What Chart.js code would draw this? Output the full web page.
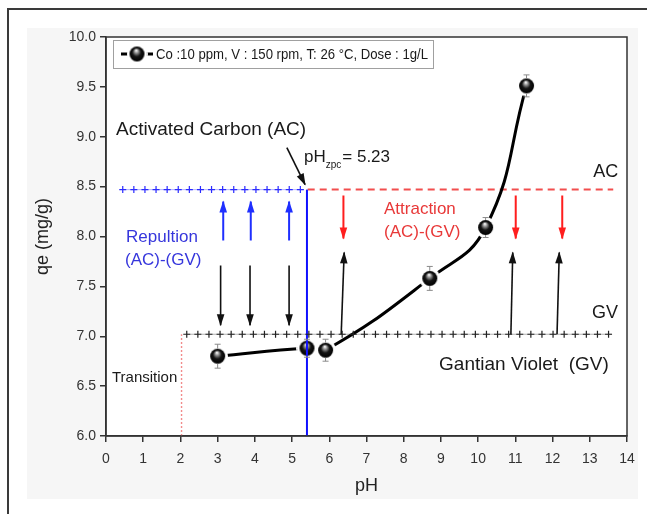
<!DOCTYPE html>
<html>
<head>
<meta charset="utf-8">
<title>qe vs pH</title>
<script src="https://cdn.jsdelivr.net/npm/chart.js@4.4.1/dist/chart.umd.min.js"></script>
<style>
  html, body { margin: 0; padding: 0; background: #fff; }
  #wrap { width: 647px; height: 514px; }
</style>
</head>
<body>
<div id="wrap"><canvas id="phChart" width="647" height="514"></canvas></div>
<script>
// measured points (pH, qe) and their error bars
var phValues = [3.0, 5.4, 5.9, 8.7, 10.2, 11.3];
var qeValues = [6.80, 6.88, 6.86, 7.58, 8.09, 9.51];
var qeErrors = [0.12, 0.09, 0.11, 0.12, 0.10, 0.11];

var xTickValues = [0, 1, 2, 3, 4, 5, 6, 7, 8, 9, 10, 11, 12, 13, 14];
var yTickValues = [6.0, 6.5, 7.0, 7.5, 8.0, 8.5, 9.0, 9.5, 10.0];
var yTickLabels = ["6.0", "6.5", "7.0", "7.5", "8.0", "8.5", "9.0", "9.5", "10.0"];

// reference levels of the scheme
var acLevel = 8.47;
var gvLevel = 7.02;
var pHzpcX = 5.4;
var transitionX = 2.03;
var acPlusRange = [0.45, 5.32];
var acDashRange = [5.42, 13.63];
var gvPlusRange = [2.17, 13.59];

// arrows: x positions, [from, to] levels
var blueUpX = [3.15, 3.89, 4.92];
var blueUpY = [7.96, 8.35];
var blackDownX = [3.08, 3.87, 4.92];
var blackDownY = [7.71, 7.11];
var redDownX = [6.38, 11.01, 12.26];
var redDownY = [8.41, 7.98];
var blackUpFromX = [6.32, 10.88, 12.12];
var blackUpToX = [6.40, 10.93, 12.18];
var blackUpY = [7.02, 7.84];
var zpcArrowX = [4.86, 5.35];
var zpcArrowY = [8.89, 8.52];

var legendText = "Co :10 ppm, V : 150 rpm, T: 26 \u00B0C, Dose : 1g/L";

var FONT = '"Liberation Sans", Arial, sans-serif';
var BLUE = "#1f2fff";
var RED = "#ff1e1e";
var BALL_R = 7.5;

Chart.defaults.font.family = FONT;
Chart.defaults.color = "#333";

// shaded ball used as point symbol (white ring gives the gap in the line)
function makeBall(r, ring) {
  var c = document.createElement("canvas");
  var s = Math.ceil(2 * (r + ring));
  c.width = s;
  c.height = s;
  var g = c.getContext("2d");
  var m = s / 2;
  g.fillStyle = "#fff";
  g.beginPath();
  g.arc(m, m, r + ring, 0, Math.PI * 2);
  g.fill();
  var grad = g.createRadialGradient(m - r * 0.1, m - r * 0.5, 0.3, m, m, r);
  grad.addColorStop(0, "#ffffff");
  grad.addColorStop(0.22, "#9a9a9a");
  grad.addColorStop(0.55, "#151515");
  grad.addColorStop(1, "#000");
  g.fillStyle = grad;
  g.beginPath();
  g.arc(m, m, r, 0, Math.PI * 2);
  g.fill();
  return c;
}
var ball = makeBall(BALL_R, 3);

function segment(x0, y0, x1, y1, color, width, extra) {
  var ds = {
    data: [{ x: x0, y: y0 }, { x: x1, y: y1 }],
    borderColor: color,
    backgroundColor: color,
    borderWidth: width,
    pointRadius: 0,
    tension: 0,
    fill: false,
    order: 5
  };
  return Object.assign(ds, extra || {});
}

var datasets = [];

// the measured curve
datasets.push({
  data: phValues.map(function (x, i) { return { x: x, y: qeValues[i] }; }),
  borderColor: "#000",
  borderWidth: 3,
  tension: 0.45,
  pointStyle: ball,
  pointRadius: 7,
  order: 2
});

// pHzpc vertical line (drawn over the ball)
datasets.push(segment(pHzpcX, 6, pHzpcX, acLevel, "#1010ff", 2, { order: 0 }));
// transition line
datasets.push(segment(transitionX, 6, transitionX, gvLevel, "#f28c8c", 1.4, { borderDash: [2, 2] }));
// AC level: + marks then red dashes
datasets.push(segment(acPlusRange[0], acLevel, acPlusRange[1], acLevel, "rgba(40,40,255,0.35)", 1, { plusMarks: "#2b2bff" }));
datasets.push(segment(acDashRange[0], acLevel, acDashRange[1], acLevel, "#f24e4e", 2, { borderDash: [7, 5] }));
// GV level
datasets.push(segment(gvPlusRange[0], gvLevel, gvPlusRange[1], gvLevel, "rgba(0,0,0,0.3)", 1, { plusMarks: "#222" }));

// arrows
blueUpX.forEach(function (x) {
  datasets.push(segment(x, blueUpY[0], x, blueUpY[1], BLUE, 2, { arrowHead: true }));
});
blackDownX.forEach(function (x) {
  datasets.push(segment(x, blackDownY[0], x, blackDownY[1], "#111", 1.6, { arrowHead: true }));
});
redDownX.forEach(function (x) {
  datasets.push(segment(x, redDownY[0], x, redDownY[1], RED, 2, { arrowHead: true }));
});
blackUpFromX.forEach(function (x, i) {
  datasets.push(segment(x, blackUpY[0], blackUpToX[i], blackUpY[1], "#111", 1.6, { arrowHead: true }));
});
datasets.push(segment(zpcArrowX[0], zpcArrowY[0], zpcArrowX[1], zpcArrowY[1], "#111", 1.6, { arrowHead: true }));

// text notes placed in data coordinates
var notes = [
  { text: "Activated Carbon (AC)", x: 0.27, y: 9.07, color: "#1a1a1a", size: 19 },
  { text: "AC", x: 13.09, y: 8.65, color: "#1a1a1a", size: 18 },
  { text: "GV", x: 13.06, y: 7.23, color: "#1a1a1a", size: 18 },
  { text: "Gantian Violet  (GV)", x: 8.95, y: 6.71, color: "#1a1a1a", size: 19 },
  { text: "Repultion", x: 0.54, y: 7.995, color: "#3636dc", size: 17 },
  { text: "(AC)-(GV)", x: 0.51, y: 7.76, color: "#3636dc", size: 17 },
  { text: "Attraction", x: 7.47, y: 8.27, color: "#e83838", size: 17 },
  { text: "(AC)-(GV)", x: 7.47, y: 8.04, color: "#e83838", size: 17 },
  { text: "Transition", x: 0.16, y: 6.58, color: "#1a1a1a", size: 15 }
];

var decor = {
  id: "decor",
  beforeDraw: function (chart) {
    var ctx = chart.ctx;
    var a = chart.chartArea;
    ctx.save();
    ctx.fillStyle = "#fff";
    ctx.fillRect(0, 0, chart.width, chart.height);
    ctx.fillStyle = "#f6f6f6";
    ctx.fillRect(27, 28, 611, 471);
    ctx.fillStyle = "#fff";
    ctx.fillRect(a.left, a.top, a.right - a.left, a.bottom - a.top);
    ctx.strokeStyle = "#3a3a3a";
    ctx.lineWidth = 2;
    ctx.beginPath();
    ctx.moveTo(8, chart.height);
    ctx.lineTo(8, 9);
    ctx.lineTo(chart.width, 9);
    ctx.stroke();
    ctx.restore();
  },
  afterDatasetsDraw: function (chart) {
    var ctx = chart.ctx;
    var xs = chart.scales.x, ys = chart.scales.y;
    var a = chart.chartArea;
    ctx.save();

    // error bars, only outside the ball
    ctx.strokeStyle = "#8a8a8a";
    ctx.lineWidth = 1;
    phValues.forEach(function (x, i) {
      var px = xs.getPixelForValue(x);
      var py = ys.getPixelForValue(qeValues[i]);
      var top = ys.getPixelForValue(qeValues[i] + qeErrors[i]);
      var bot = ys.getPixelForValue(qeValues[i] - qeErrors[i]);
      ctx.beginPath();
      ctx.moveTo(px, top); ctx.lineTo(px, py - BALL_R);
      ctx.moveTo(px, py + BALL_R); ctx.lineTo(px, bot);
      ctx.moveTo(px - 3, top); ctx.lineTo(px + 3, top);
      ctx.moveTo(px - 3, bot); ctx.lineTo(px + 3, bot);
      ctx.stroke();
    });

    chart.data.datasets.forEach(function (ds, i) {
      var pts = chart.getDatasetMeta(i).data;
      if (ds.plusMarks) {
        ctx.strokeStyle = ds.plusMarks;
        ctx.lineWidth = 1.2;
        var x0 = pts[0].x, x1 = pts[1].x, y = pts[0].y;
        ctx.beginPath();
        for (var px = x0; px <= x1 + 0.5; px += 11.1) {
          ctx.moveTo(px - 3.5, y); ctx.lineTo(px + 3.5, y);
          ctx.moveTo(px, y - 3.5); ctx.lineTo(px, y + 3.5);
        }
        ctx.stroke();
      }
      if (ds.arrowHead) {
        var p0 = pts[0], p1 = pts[1];
        var ang = Math.atan2(p1.y - p0.y, p1.x - p0.x);
        ctx.fillStyle = ds.borderColor;
        ctx.save();
        ctx.translate(p1.x, p1.y);
        ctx.rotate(ang);
        ctx.beginPath();
        ctx.moveTo(1, 0);
        ctx.lineTo(-11, -3.8);
        ctx.lineTo(-11, 3.8);
        ctx.closePath();
        ctx.fill();
        ctx.restore();
      }
    });

    // notes
    ctx.textBaseline = "middle";
    ctx.textAlign = "left";
    notes.forEach(function (n) {
      ctx.fillStyle = n.color;
      ctx.font = n.size + "px " + FONT;
      ctx.fillText(n.text, xs.getPixelForValue(n.x), ys.getPixelForValue(n.y));
    });

    // pHzpc = 5.23
    var zx = xs.getPixelForValue(5.32), zy = ys.getPixelForValue(8.79);
    ctx.fillStyle = "#1a1a1a";
    ctx.font = "17px " + FONT;
    ctx.fillText("pH", zx, zy);
    zx += ctx.measureText("pH").width;
    ctx.font = "10px " + FONT;
    ctx.fillText("zpc", zx, zy + 8);
    zx += ctx.measureText("zpc").width + 1;
    ctx.font = "17px " + FONT;
    ctx.fillText("= 5.23", zx, zy);

    // legend box
    var lx = a.left + 7, ly = a.top + 3, lw = 320, lh = 28;
    ctx.fillStyle = "#fff";
    ctx.fillRect(lx, ly, lw, lh);
    ctx.strokeStyle = "#a0a0a0";
    ctx.lineWidth = 1;
    ctx.strokeRect(lx + 0.5, ly + 0.5, lw, lh);
    var cy = ly + lh / 2;
    ctx.strokeStyle = "#000";
    ctx.lineWidth = 3;
    ctx.beginPath();
    ctx.moveTo(lx + 8, cy); ctx.lineTo(lx + 40, cy);
    ctx.stroke();
    ctx.drawImage(ball, lx + 24 - ball.width / 2, cy - ball.height / 2);
    ctx.fillStyle = "#1a1a1a";
    ctx.font = "15px " + FONT;
    ctx.fillText(legendText, lx + 43, cy + 1, 272);

    // plot frame (top and right)
    ctx.strokeStyle = "#333";
    ctx.lineWidth = 1.5;
    ctx.strokeRect(a.left, a.top, a.right - a.left, a.bottom - a.top);
    ctx.restore();
  }
};

var ctx = document.getElementById("phChart").getContext("2d");
var phChart = new Chart(ctx, {
  type: "line",
  data: { datasets: datasets },
  options: {
    responsive: false,
    animation: false,
    events: [],
    layout: { padding: { left: 0, top: 37, right: 20, bottom: 0 } },
    plugins: {
      legend: { display: false },
      title: { display: false },
      tooltip: { enabled: false }
    },
    scales: {
      x: {
        type: "linear",
        min: 0,
        max: 14,
        afterBuildTicks: function (s) {
          s.ticks = xTickValues.map(function (v) { return { value: v }; });
        },
        afterFit: function (s) { s.height = 78; },
        ticks: {
          padding: 9,
          color: "#333",
          font: { size: 14 },
          callback: function (v) { return String(v); }
        },
        grid: { drawOnChartArea: false, drawTicks: true, tickLength: 6, color: "#333", lineWidth: 1.5 },
        border: { color: "#333", width: 1.5 },
        title: { display: true, text: "pH", font: { size: 18 }, color: "#222", padding: { top: 0, bottom: 17 } }
      },
      y: {
        type: "linear",
        min: 6,
        max: 10,
        afterBuildTicks: function (s) {
          s.ticks = yTickValues.map(function (v) { return { value: v }; });
        },
        afterFit: function (s) { s.width = 106; },
        ticks: {
          padding: 4,
          color: "#333",
          font: { size: 14 },
          callback: function (v) {
            var i = yTickValues.indexOf(v);
            return i >= 0 ? yTickLabels[i] : "";
          }
        },
        grid: { drawOnChartArea: false, drawTicks: true, tickLength: 6, color: "#333", lineWidth: 1.5 },
        border: { color: "#333", width: 1.5 },
        title: { display: true, text: "qe (mg/g)", font: { size: 18 }, color: "#222", padding: { top: 32, bottom: 0 } }
      }
    }
  },
  plugins: [decor]
});
</script>
</body>
</html>
